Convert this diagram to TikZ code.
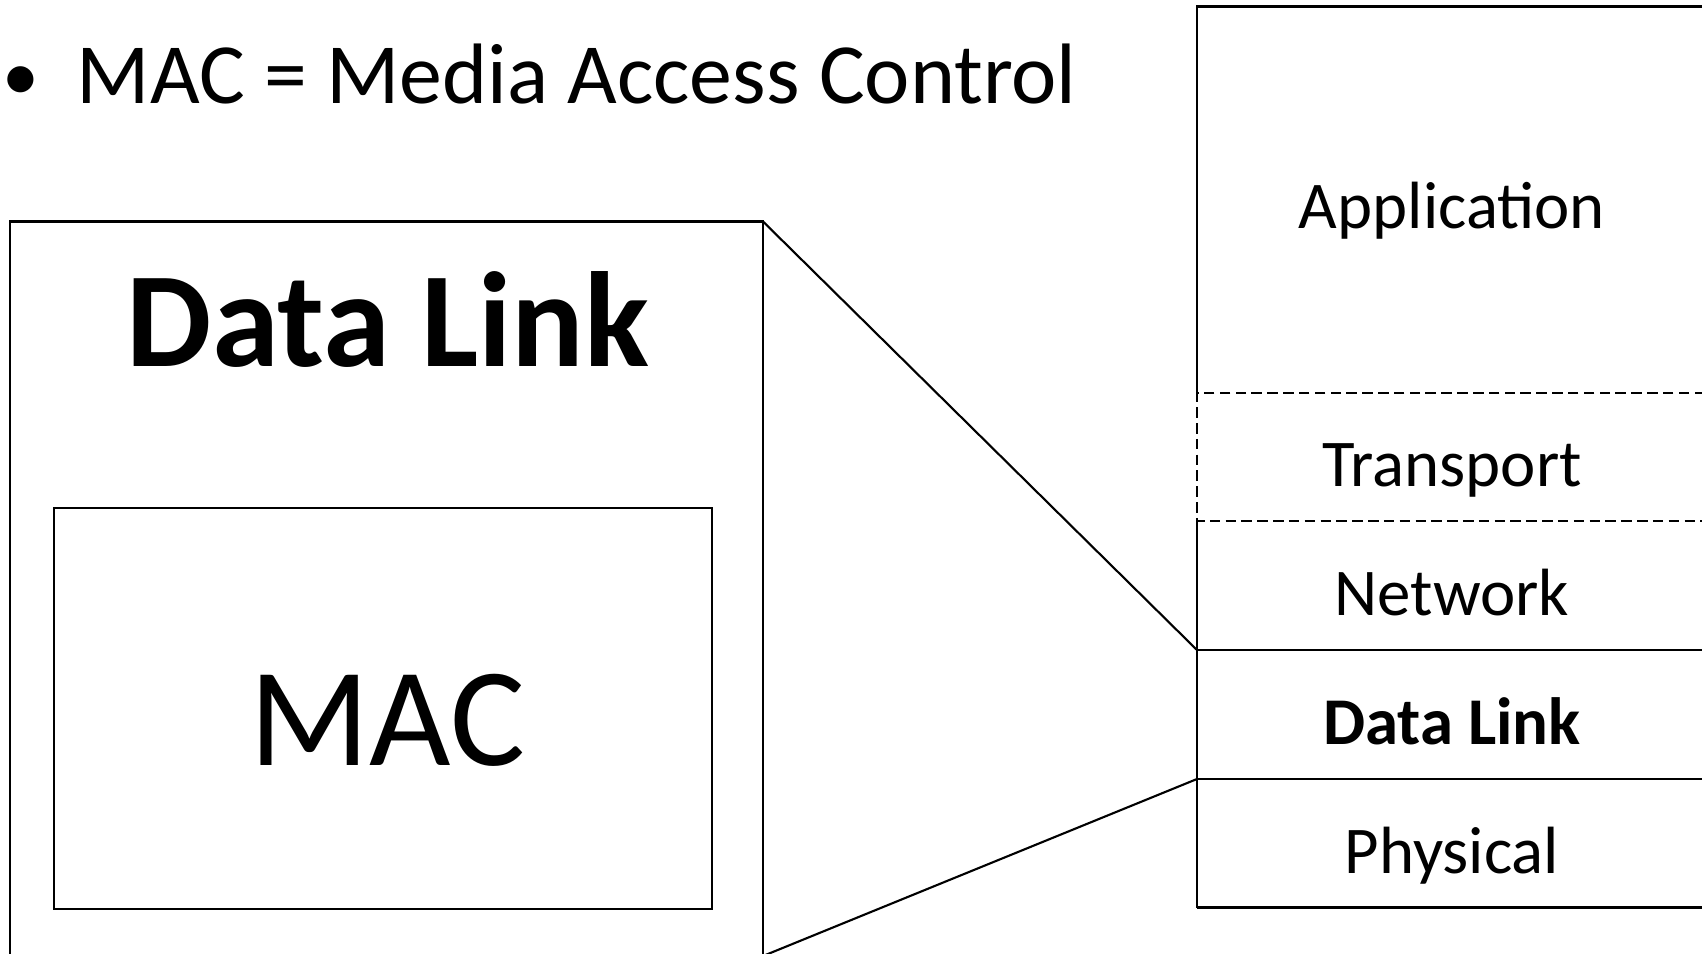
\documentclass[tikz,border=0pt]{standalone}
\usepackage{fontspec}
\setmainfont{Carlito}
\begin{document}
\begin{tikzpicture}[x=0.01cm,y=-0.01cm,
  box/.style={draw=black,line width=0.6pt},
  dbox/.style={draw=black,line width=0.6pt,dash pattern=on 3pt off 1.5pt},
  conn/.style={draw=black,line width=0.6pt},
  lbl/.style={font=\fontsize{19pt}{23pt}\selectfont,anchor=base,inner sep=0pt},
  ttl/.style={font=\fontsize{24.4pt}{29pt}\selectfont,anchor=base west,inner sep=0pt}]
\useasboundingbox (0,0) rectangle (1702,954);
\clip (0,0) rectangle (1702,954);
\fill[white] (0,0) rectangle (1702,954);
% bullet
\node[ttl,font=\fontsize{21pt}{25pt}\selectfont] (bul) at (2,100) {•};
\node[ttl] (title) at (76,103) {MAC = Media Access Control};
% left zoom box
\coordinate (LTL) at (10,221.5);
\coordinate (LTR) at (763,221.5);
\coordinate (LBR) at (763,1000);
\coordinate (LEND) at (763,956);
\draw[box] (10,1000) -- (LTL) -- (LTR) -- (LBR);
\node[anchor=base,inner sep=0pt,font=\bfseries\fontsize{38.5pt}{44pt}\selectfont] (dl) at (388,366) {Data Link};
\draw[box] (54,508) rectangle (712,909);
\node[anchor=base,inner sep=0pt,font=\fontsize{40pt}{46pt}\selectfont] (mac) at (387.5,765) {MAC};
% right stack
\coordinate (RA) at (1197,6.5);
\coordinate (RT) at (1197,393);
\coordinate (RN) at (1197,521);
\coordinate (RD) at (1197,650);
\coordinate (RP) at (1197,779);
\coordinate (RB) at (1197,907.5);
\draw[box] (1800,6.5) -- (RA) -- (RT);
\draw[dbox] (1800,393) -- (RT) -- (RN) -- (1800,521);
\draw[box] (RN) -- (RD) -- (RP) -- (RB);
\draw[box] (RD) -- (1800,650);
\draw[box] (RP) -- (1800,779);
\draw[box] (RB) -- (1800,907.5);
\node[lbl] (app) at (1452,228) {Application};
\node[lbl] (tr) at (1452,486) {Transport};
\node[lbl] (nw) at (1452,615.5) {Network};
\node[lbl,font=\bfseries\fontsize{19pt}{23pt}\selectfont] (dlr) at (1452,744.7) {Data Link};
\node[lbl] (ph) at (1452,873.8) {Physical};
% connectors
\draw[conn] (LTR) -- (RD);
\draw[conn] (RP) -- (LEND);
\end{tikzpicture}
\end{document}
